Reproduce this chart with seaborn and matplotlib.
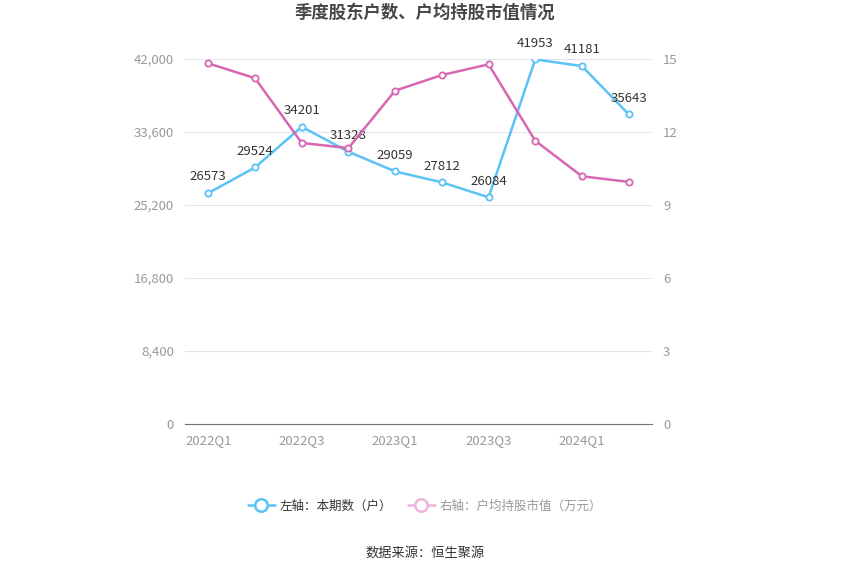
import matplotlib
matplotlib.use("Agg")
import matplotlib.pyplot as plt
import pandas as pd
import seaborn as sns
from matplotlib.ticker import FixedLocator, FuncFormatter
from matplotlib.lines import Line2D

quarters = ["2022Q1", "2022Q2", "2022Q3", "2022Q4", "2023Q1",
            "2023Q2", "2023Q3", "2023Q4", "2024Q1", "2024Q2"]
holders = [26573, 29524, 34201, 31328, 29059, 27812, 26084, 41953, 41181, 35643]
avg_value = [14.82, 14.21, 11.55, 11.34, 13.70, 14.34, 14.78, 11.64, 10.18, 9.95]

BLUE = "#5bc2f5"
PINK = "#d867b2"

sns.set_style("white")
plt.rcParams["font.family"] = ["Noto Sans CJK SC", "DejaVu Sans"]

df = pd.DataFrame({"quarter": quarters, "holders": holders, "avg": avg_value})
df["pos"] = range(len(df))

fig = plt.figure(figsize=(8.5, 5.75), dpi=100)
ax = fig.add_axes([185 / 850, 1 - 424 / 575, 467 / 850, 365 / 575])
ax2 = ax.twinx()

sns.lineplot(data=df, x="pos", y="holders", ax=ax, color=BLUE, lw=1.8,
             marker="o", markersize=4.5, markerfacecolor="white",
             markeredgecolor=BLUE, markeredgewidth=1.3, zorder=3)
sns.lineplot(data=df, x="pos", y="avg", ax=ax2, color=PINK, lw=1.8,
             marker="o", markersize=4.5, markerfacecolor="white",
             markeredgecolor=PINK, markeredgewidth=1.3, zorder=3)

for x, v in zip(df["pos"], holders):
    ax.annotate(str(v), (x, v), xytext=(0, 7), textcoords="offset points",
                ha="center", va="bottom", fontsize=9.5, color="#333333", zorder=5)

ax.set_xlim(-0.5, len(quarters) - 0.5)
ax.set_ylim(0, 42000)
ax2.set_ylim(0, 15)
ax.yaxis.set_major_locator(FixedLocator([0, 8400, 16800, 25200, 33600, 42000]))
ax.yaxis.set_major_formatter(FuncFormatter(lambda v, p: f"{int(v):,}"))
ax2.yaxis.set_major_locator(FixedLocator([0, 3, 6, 9, 12, 15]))

ax.set_xticks(df["pos"][::2])
ax.set_xticklabels(quarters[::2])
ax.set_xlabel("")
ax.set_ylabel("")
ax2.set_ylabel("")

ax.grid(axis="y", color="#e0e6f1", lw=0.8)
ax.set_axisbelow(True)
for a in (ax, ax2):
    for s in ("top", "right", "left"):
        a.spines[s].set_visible(False)
ax2.spines["bottom"].set_visible(False)
ax.spines["bottom"].set_color("#6e7079")
ax.tick_params(axis="x", colors="#6e7079", labelcolor="#999999", labelsize=9.5,
               length=4, direction="out", pad=3)
ax.tick_params(axis="y", length=0, labelcolor="#999999", labelsize=9.5, pad=8)
ax2.tick_params(axis="y", length=0, labelcolor="#999999", labelsize=9.5, pad=8)

fig.text(0.5, 1 - 13 / 575, "季度股东户数、户均持股市值情况", ha="center", va="center",
         fontsize=12.5, fontweight="bold", color="#464646")

handles = [
    Line2D([0], [0], color=BLUE, lw=1.8, marker="o", markersize=9,
           markerfacecolor="white", markeredgecolor=BLUE, markeredgewidth=1.8),
    Line2D([0], [0], color="#f0b3dc", lw=1.8, marker="o", markersize=9,
           markerfacecolor="white", markeredgecolor="#f0b3dc", markeredgewidth=1.8),
]
leg = fig.legend(handles, ["左轴：本期数（户）", "右轴：户均持股市值（万元）"],
                 loc="center", bbox_to_anchor=(0.5, 1 - 506 / 575), ncol=2,
                 frameon=False, fontsize=9, handlelength=2.2, columnspacing=1.2,
                 handletextpad=0.4)
leg.get_texts()[0].set_color("#333333")
leg.get_texts()[1].set_color("#999999")

fig.text(0.5, 1 - 553 / 575, "数据来源：恒生聚源", ha="center", va="center",
         fontsize=9.5, color="#333333")

fig.savefig("out.png", dpi=100)
